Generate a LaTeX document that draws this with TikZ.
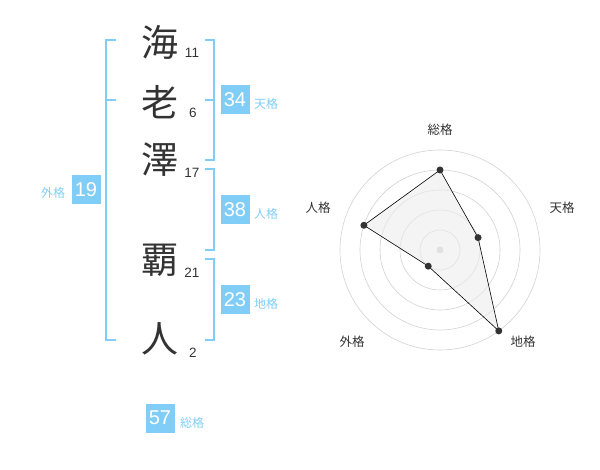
\documentclass[tikz,border=0pt]{standalone}
\usepackage{fontspec}
\setmainfont{Liberation Sans}
\newfontfamily\jpfont{Noto Sans CJK JP}
\usepackage{xcolor}
\definecolor{sky}{RGB}{128,206,247}
\definecolor{ink}{RGB}{51,51,51}

\begin{document}
\begin{tikzpicture}[x=1pt,y=-1pt,
   br/.style={draw=sky,line width=2pt},
   kan/.style={text=ink,font=\jpfont\fontsize{37}{37}\selectfont,inner sep=0pt},
   strk/.style={text=ink,font=\fontsize{13.5}{13.5}\selectfont,inner sep=0pt},
   box/.style={fill=sky,text=white,minimum size=29pt,inner sep=0pt,font=\fontsize{20}{20}\selectfont},
   kaku/.style={text=sky,font=\jpfont\fontsize{12}{12}\selectfont,inner sep=0pt},
   ring/.style={draw=gray!35,line width=0.6pt},
   dot/.style={circle,fill=ink,inner sep=0pt,minimum size=7pt},
   axl/.style={text=ink,font=\jpfont\fontsize{12.5}{12.5}\selectfont,inner sep=0pt}]
   \useasboundingbox (0,0) rectangle (600,470);
   % name
   \node[kan]  (c1) at (160,42)  {海};
   \node[kan]  (c2) at (160,102) {老};
   \node[kan]  (c3) at (160,160) {澤};
   \node[kan]  (c4) at (160,260) {覇};
   \node[kan]  (c5) at (160,339) {人};
   \node[strk] (n1) at (192,53)  {11};
   \node[strk] (n2) at (193,113) {6};
   \node[strk] (n3) at (192,173) {17};
   \node[strk] (n4) at (192,273) {21};
   \node[strk] (n5) at (193,353) {2};
   % brackets
   \draw[br] (116,40) -- (106,40) -- (106,340) -- (116,340) (106,100) -- (116,100);
   \draw[br] (205,40) -- (214,40) -- (214,160) -- (205,160) (205,100) -- (214,100);
   \draw[br] (205,169) -- (214,169) -- (214,250) -- (205,250);
   \draw[br] (205,259) -- (214,259) -- (214,340) -- (205,340);
   % values
   \node[box]  (ten)  at (235,100) {34};
   \node[kaku] (tenl) at (266,104) {天格};
   \node[box]  (jin)  at (235,210) {38};
   \node[kaku] (jinl) at (266,214) {人格};
   \node[box]  (chi)  at (235,300) {23};
   \node[kaku] (chil) at (266,304) {地格};
   \node[box]  (gai)  at (86,190)  {19};
   \node[kaku] (gail) at (53,193)  {外格};
   \node[box]  (sou)  at (160,418) {57};
   \node[kaku] (soul) at (192,423) {総格};
   % radar
   \coordinate (O) at (440,250);
   \foreach \r in {20,40,60,80,100} \draw[ring] (O) circle (\r);
   \fill[gray!35] (O) circle (3.5);
   \path (O) ++(-90:80) coordinate (S) (O) ++(-18:40) coordinate (T)
         (O) ++(54:100) coordinate (C) (O) ++(126:20) coordinate (G)
         (O) ++(198:80) coordinate (J);
   \draw[fill=gray!15,fill opacity=0.6,line width=0.6pt] (S) -- (T) -- (C) -- (G) -- (J) -- cycle;
   \foreach \p in {S,T,C,G,J} \node[dot] at (\p) {};
   \node[axl] (aS) at (440,130) {総格};
   \node[axl] (aT) at (562,208) {天格};
   \node[axl] (aC) at (523,342) {地格};
   \node[axl] (aG) at (352,342) {外格};
   \node[axl] (aJ) at (318,208) {人格};
\end{tikzpicture}
\end{document}
